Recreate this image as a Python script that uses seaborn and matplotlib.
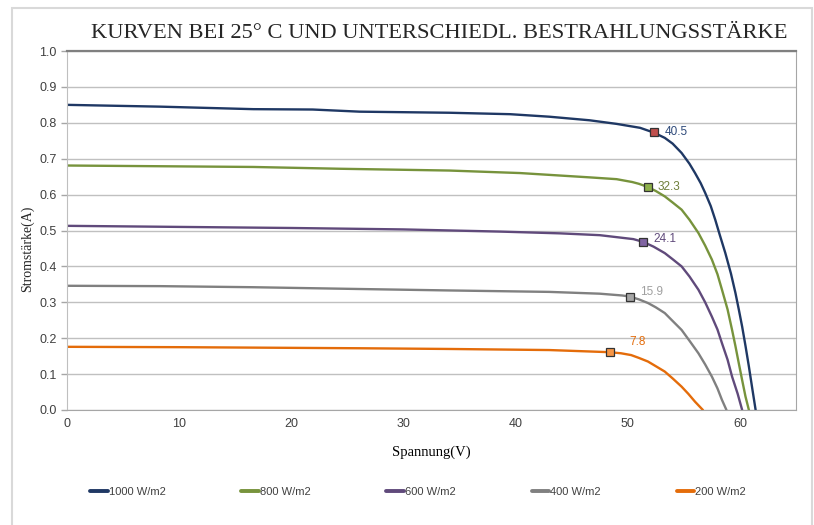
import pandas as pd
import seaborn as sns
import matplotlib.pyplot as plt
from matplotlib.patches import Rectangle

# Data
series_names = ['1000 W/m2', '800 W/m2', '600 W/m2', '400 W/m2', '200 W/m2']

v_1000 = [0, 8.3, 16.6, 21.9, 26.1, 34.1, 39.5, 43.0, 46.6, 49.0, 51.1, 52.3, 53.3, 54.0,
          54.8, 55.5, 56.0, 56.5, 56.9, 57.4, 57.8, 58.2, 58.7, 59.2, 59.6, 59.9, 60.2,
          60.5, 60.8, 61.1, 61.4]
i_1000 = [0.850, 0.845, 0.838, 0.837, 0.831, 0.828, 0.824, 0.817, 0.807, 0.797, 0.786,
          0.773, 0.758, 0.742, 0.716, 0.686, 0.660, 0.632, 0.605, 0.568, 0.530, 0.488,
          0.437, 0.380, 0.326, 0.280, 0.232, 0.178, 0.121, 0.060, 0.0]

v_800 = [0, 8.3, 16.6, 24.3, 34.1, 40.4, 46.6, 49.0, 50.4, 51.0, 51.8, 52.5, 53.3, 54.0,
         54.8, 55.5, 56.3, 56.9, 57.5, 58.0, 58.4, 58.9, 59.3, 59.6, 59.9, 60.2, 60.5, 60.8]
i_800 = [0.681, 0.679, 0.677, 0.672, 0.667, 0.660, 0.648, 0.643, 0.635, 0.630, 0.621,
         0.610, 0.595, 0.578, 0.558, 0.530, 0.493, 0.458, 0.419, 0.378, 0.335, 0.280,
         0.223, 0.178, 0.130, 0.083, 0.037, 0.0]

v_600 = [0, 10, 20, 30, 38.6, 44, 47.5, 50.5, 51.4, 52.3, 53.3, 54.0, 54.8, 55.5, 56.3,
         56.9, 57.5, 58.0, 58.4, 58.9, 59.3, 59.8, 60.2]
i_600 = [0.513, 0.510, 0.507, 0.503, 0.497, 0.492, 0.487, 0.476, 0.468, 0.455, 0.437,
         0.420, 0.400, 0.372, 0.335, 0.300, 0.260, 0.224, 0.186, 0.140, 0.093, 0.045, 0.0]

v_400 = [0, 8.3, 16.6, 26.1, 34.1, 43.0, 47.5, 49.5, 50.2, 51.0, 51.8, 52.5, 53.3, 54.0,
         54.8, 55.5, 56.3, 56.9, 57.5, 58.0, 58.4, 58.8]
i_400 = [0.346, 0.345, 0.342, 0.337, 0.333, 0.329, 0.324, 0.319, 0.316, 0.308, 0.298,
         0.286, 0.270, 0.248, 0.223, 0.193, 0.158, 0.127, 0.093, 0.060, 0.028, 0.0]

v_200 = [0, 10, 26.1, 34.1, 43.0, 46.6, 48.4, 49.4, 50.3, 51.0, 51.8, 52.5, 53.3, 54.0,
         54.8, 55.4, 56.0, 56.7]
i_200 = [0.176, 0.175, 0.172, 0.170, 0.167, 0.163, 0.161, 0.158, 0.153, 0.145, 0.135,
         0.122, 0.107, 0.088, 0.065, 0.045, 0.023, 0.0]

# maximum power points and their labels (W)
mpp_v = [52.3, 51.8, 51.4, 50.2, 48.4]
mpp_i = [0.773, 0.621, 0.468, 0.316, 0.161]
mpp_labels = ['40.5', '32.3', '24.1', '15.9', '7.8']

line_colors = ['#1F3864', '#77933C', '#604A7B', '#808080', '#E46C0A']
marker_colors = ['#C0504D', '#8DB04A', '#8064A2', '#A6A6A6', '#F79646']
label_colors = ['#2E4A7A', '#6E7F3A', '#604A7B', '#A0A0A0', '#E46C0A']
label_offsets = [(8, 0), (7, 0), (7, 2), (7, 3), (14, 7)]

# long format table for seaborn
frames = []
for name, v, i in zip(series_names,
                      [v_1000, v_800, v_600, v_400, v_200],
                      [i_1000, i_800, i_600, i_400, i_200]):
    frames.append(pd.DataFrame({'V': v, 'I': i, 'series': name}))
df = pd.concat(frames, ignore_index=True)

sns.set_style('white')
plt.rcParams['font.family'] = ['Liberation Sans', 'DejaVu Sans']

fig = plt.figure(figsize=(8.14, 5.25), dpi=100)
ax = fig.add_axes([67 / 814, 1 - 410 / 525, (796 - 67) / 814, (410 - 51) / 525])

# light outer frame
fig.patches.append(Rectangle((12 / 814, -0.02), 800 / 814, 1 - 8 / 525 + 0.02,
                             transform=fig.transFigure, fill=False,
                             edgecolor='#D9D9D9', linewidth=1.5))

sns.lineplot(data=df, x='V', y='I', hue='series', hue_order=series_names,
             palette=dict(zip(series_names, line_colors)), sort=False,
             estimator=None, linewidth=1.7, legend=False, ax=ax)

for v, i, lab, mc, lc, off in zip(mpp_v, mpp_i, mpp_labels, marker_colors,
                                   label_colors, label_offsets):
    ax.plot(v, i, marker='s', markersize=6, markerfacecolor=mc,
            markeredgecolor='#333333', markeredgewidth=0.9, zorder=5)
    ax.annotate(lab, (v, i), xytext=off, textcoords='offset points',
                ha='left', va='center', fontsize=8.5, color=lc)

ax.set_xlim(0, 65)
ax.set_ylim(0, 1.0)
ax.set_xticks(range(0, 61, 10))
ax.set_yticks([k / 10 for k in range(11)])
ax.set_yticklabels([f'{k / 10:.1f}' for k in range(11)])
ax.yaxis.grid(True, color='#C0C0C0', linewidth=1)
ax.xaxis.grid(False)
ax.tick_params(axis='both', labelsize=9, colors='#404040')
ax.tick_params(axis='y', length=4, color='#A6A6A6', width=1, left=True)
ax.tick_params(axis='x', length=0, pad=6)

ax.spines['top'].set_color('#808080')
ax.spines['top'].set_linewidth(1.6)
ax.spines['right'].set_color('#A6A6A6')
ax.spines['bottom'].set_color('#A6A6A6')
ax.spines['left'].set_color('#BFBFBF')
for s in ax.spines.values():
    s.set_visible(True)

ax.set_xlabel('Spannung(V)', family='Liberation Serif', fontsize=10.5,
              color='black', labelpad=11)
ax.set_ylabel('')
fig.text(27 / 814, 1 - 249 / 525, 'Stromstärke(A)', family='Liberation Serif',
         fontsize=10, rotation=90, ha='center', va='center')

fig.text(439 / 814, 1 - 33 / 525, 'KURVEN BEI 25° C UND UNTERSCHIEDL. BESTRAHLUNGSSTÄRKE',
         family='Liberation Serif', fontsize=16.2, ha='center', va='center')

handles = [plt.Line2D([], [], color=c, linewidth=2.8) for c in line_colors]
fig.legend(handles, series_names, loc='center', ncol=5,
           bbox_to_anchor=(418 / 814, 1 - 492 / 525), frameon=False,
           fontsize=8, handlelength=1.6, handletextpad=0.1, columnspacing=6.8,
           labelcolor='#404040')

fig.savefig('out.png', dpi=100)
